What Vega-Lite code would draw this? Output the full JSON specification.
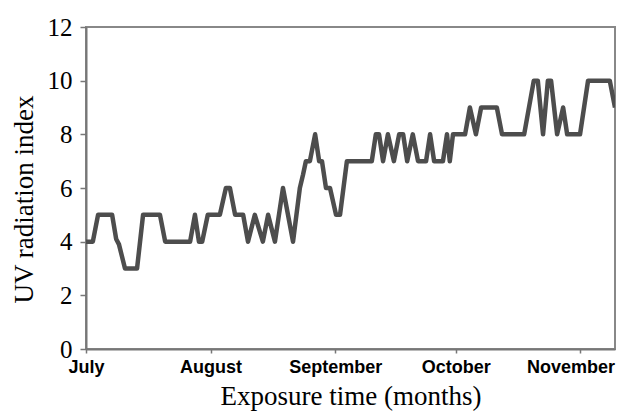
{
  "$schema": "https://vega.github.io/schema/vega-lite/v6.json",
  "autosize": {"type": "none"},
  "padding": {"left": 86, "top": 27, "right": 2, "bottom": 67},
  "width": 529,
  "height": 322,
  "background": "white",
  "config": {
    "view": {"stroke": "#888888", "strokeWidth": 2},
    "axis": {"grid": false, "domainColor": "#777777", "domainWidth": 2, "tickColor": "#777777", "tickWidth": 1.5}
  },
  "data": {
    "values": [
      {"day": 0, "uv": 4}, {"day": 1.7, "uv": 4}, {"day": 3.0, "uv": 5}, {"day": 6.5, "uv": 5},
      {"day": 7.5, "uv": 4.1}, {"day": 8.2, "uv": 3.9}, {"day": 9.7, "uv": 3}, {"day": 12.7, "uv": 3},
      {"day": 14.2, "uv": 5}, {"day": 18.4, "uv": 5}, {"day": 19.7, "uv": 4}, {"day": 25.9, "uv": 4},
      {"day": 27.1, "uv": 5}, {"day": 28.1, "uv": 4}, {"day": 28.9, "uv": 4}, {"day": 30.3, "uv": 5},
      {"day": 33.3, "uv": 5}, {"day": 34.8, "uv": 6}, {"day": 35.8, "uv": 6}, {"day": 37.1, "uv": 5},
      {"day": 39.1, "uv": 5}, {"day": 40.3, "uv": 4}, {"day": 42.0, "uv": 5}, {"day": 44.0, "uv": 4},
      {"day": 45.3, "uv": 5}, {"day": 47.0, "uv": 4}, {"day": 49.0, "uv": 6}, {"day": 51.5, "uv": 4},
      {"day": 53.2, "uv": 6}, {"day": 54.0, "uv": 6.5}, {"day": 54.7, "uv": 7}, {"day": 55.7, "uv": 7},
      {"day": 57.0, "uv": 8}, {"day": 58.0, "uv": 7}, {"day": 58.7, "uv": 7}, {"day": 59.7, "uv": 6},
      {"day": 60.7, "uv": 6}, {"day": 62.2, "uv": 5}, {"day": 63.2, "uv": 5}, {"day": 64.9, "uv": 7},
      {"day": 71.1, "uv": 7}, {"day": 72.1, "uv": 8}, {"day": 72.9, "uv": 8}, {"day": 73.9, "uv": 7},
      {"day": 75.1, "uv": 8}, {"day": 76.6, "uv": 7}, {"day": 77.9, "uv": 8}, {"day": 78.9, "uv": 8},
      {"day": 79.9, "uv": 7}, {"day": 81.3, "uv": 8}, {"day": 82.6, "uv": 7}, {"day": 84.6, "uv": 7},
      {"day": 85.6, "uv": 8}, {"day": 86.6, "uv": 7}, {"day": 88.8, "uv": 7}, {"day": 89.8, "uv": 8},
      {"day": 90.5, "uv": 7}, {"day": 91.3, "uv": 8}, {"day": 94.3, "uv": 8}, {"day": 95.5, "uv": 9},
      {"day": 97.0, "uv": 8}, {"day": 98.3, "uv": 9}, {"day": 102.2, "uv": 9}, {"day": 103.5, "uv": 8},
      {"day": 109.0, "uv": 8}, {"day": 111.4, "uv": 10}, {"day": 112.4, "uv": 10}, {"day": 113.7, "uv": 8},
      {"day": 114.9, "uv": 10}, {"day": 115.7, "uv": 10}, {"day": 117.2, "uv": 8}, {"day": 118.7, "uv": 9},
      {"day": 119.7, "uv": 8}, {"day": 122.9, "uv": 8}, {"day": 124.9, "uv": 10}, {"day": 130.3, "uv": 10},
      {"day": 131.6, "uv": 9}
    ]
  },
  "mark": {"type": "line", "color": "#4d4d4d", "strokeWidth": 4.5, "strokeJoin": "round", "clip": true},
  "encoding": {
    "x": {
      "field": "day", "type": "quantitative",
      "scale": {"domain": [0, 131.6], "nice": false, "zero": false},
      "axis": {
        "values": [0, 31, 62, 92, 123],
        "labelExpr": "datum.value == 0 ? 'July' : datum.value == 31 ? 'August' : datum.value == 62 ? 'September' : datum.value == 92 ? 'October' : 'November'",
        "labelFont": "Liberation Sans", "labelFontWeight": "bold", "labelFontSize": 18, "labelColor": "black",
        "labelOffset": {"condition": {"test": "datum.value == 123", "value": -10}, "value": 0},
        "labelFlush": false,
        "labelPadding": 5, "tickSize": 4, "labelBound": false, "labelOverlap": false,
        "title": "Exposure time (months)", "titleFont": "Liberation Serif", "titleFontSize": 27,
        "titleFontWeight": "normal", "titleColor": "black", "titlePadding": 7
      }
    },
    "y": {
      "field": "uv", "type": "quantitative",
      "scale": {"domain": [0, 12], "nice": false},
      "axis": {
        "values": [0, 2, 4, 6, 8, 10, 12],
        "labelFont": "Liberation Serif", "labelFontSize": 25, "labelColor": "black",
        "labelPadding": 8, "tickSize": 6,
        "title": "UV radiation index", "titleFont": "Liberation Serif", "titleFontSize": 27,
        "titleFontWeight": "normal", "titleColor": "black", "titlePadding": 9, "titleY": 172
      }
    }
  }
}
